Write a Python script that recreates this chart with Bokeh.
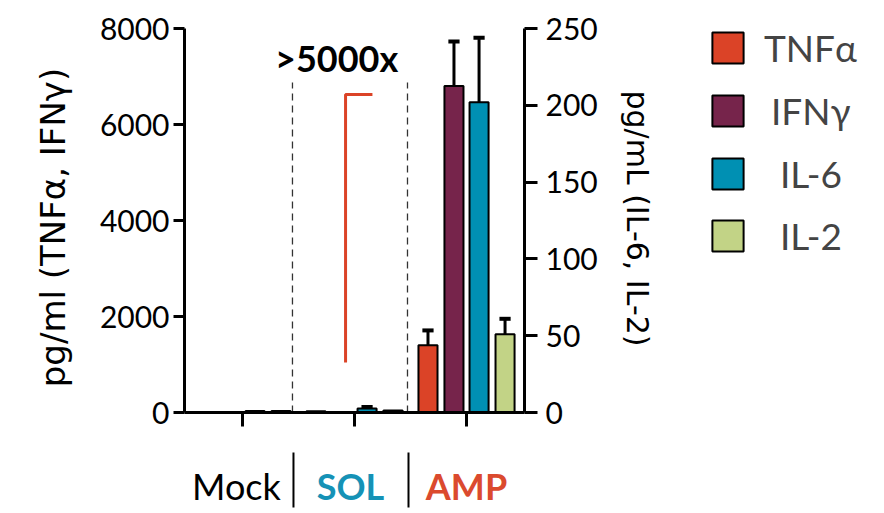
import math
from bokeh.plotting import figure
from bokeh.models import Range1d, LinearAxis, FixedTicker, Label, Legend, LegendItem, ColumnDataSource
from bokeh.embed import file_html
from bokeh.resources import INLINE

# ---------------- data ----------------
groups = ["Mock", "SOL", "AMP"]
group_x = [1, 2, 3]
series = ["TNFα", "IFNγ", "IL-6", "IL-2"]
tnfa = [0, 25, 1400]
tnfa_err = [0, 0, 310]
ifng = [0, 0, 6800]
ifng_err = [0, 0, 930]
il6 = [1.0, 2.6, 202]
il6_err = [0, 1.0, 42]
il2 = [1.0, 1.3, 51]
il2_err = [0, 0, 10]
left_ticks = [0, 2000, 4000, 6000, 8000]
right_ticks = [0, 50, 100, 150, 200, 250]
left_max = 8000
right_max = 250
fold_text = ">5000x"
left_title = "pg/ml (TNFα, IFNγ)"
right_title = "pg/mL (IL-6, IL-2)"
bracket_low = 1042
bracket_high = 6625
divider_top = 6875

# ---------------- layout (pixels) ----------------
W, H = 880, 510
LEFT, TOP = 184, 8                # pixel column of the left axis, top of the frame
Y0_PX, YMAX_PX = 412, 28          # pixel rows of value 0 and of the axis top
XMIN = 0.482                      # x value at the left axis
PX_PER_X = 112.0
ppu_l = (Y0_PX - YMAX_PX) / left_max
ppu_r = (Y0_PX - YMAX_PX) / right_max
y_lo = -(H - Y0_PX) / ppu_l
y_hi = left_max + (YMAX_PX - TOP) / ppu_l
yr_lo = -(H - Y0_PX) / ppu_r
yr_hi = right_max + (YMAX_PX - TOP) / ppu_r
x_lo = XMIN - LEFT / PX_PER_X
x_hi = XMIN + (W - LEFT) / PX_PER_X
x_axis_end = 3.518


def px_to_y(py):
    return (Y0_PX - py) / ppu_l


def px_to_x(px):
    return XMIN + (px - LEFT) / PX_PER_X


# ---------------- style ----------------
colors = ["#DB4327", "#76244B", "#0090B3", "#C2D386"]
group_colors = ["black", "#1592B6", "#DB4A2E"]
group_weights = ["normal", "bold", "bold"]
offsets = [-0.344, -0.112, 0.112, 0.344]
bar_w = 0.17
cap_w = 0.1
FONT = "Lato"

p = figure(width=W, height=H, x_range=Range1d(x_lo, x_hi), y_range=Range1d(y_lo, y_hi),
           output_backend="svg", toolbar_location=None,
           min_border_left=0, min_border_right=0, min_border_top=TOP, min_border_bottom=0)
p.extra_y_ranges = {"right": Range1d(yr_lo, yr_hi)}
p.xgrid.visible = False
p.ygrid.visible = False
p.outline_line_color = None
p.background_fill_color = "white"
p.border_fill_color = "white"

right_axis = LinearAxis(y_range_name="right")
p.add_layout(right_axis, "right")


def style_axis(ax):
    ax.axis_line_width = 3
    ax.axis_line_color = "black"
    ax.major_tick_line_width = 3
    ax.major_tick_line_color = "black"
    ax.major_tick_in = 0
    ax.major_tick_out = 11
    ax.minor_tick_line_color = None
    ax.major_label_text_font = FONT
    ax.major_label_text_font_size = "30px"
    ax.major_label_text_color = "black"


for ax in [p.yaxis[0], right_axis, p.xaxis[0]]:
    style_axis(ax)

p.yaxis[0].ticker = FixedTicker(ticks=left_ticks)
p.yaxis[0].bounds = (0, left_max)
p.yaxis[0].fixed_location = XMIN
p.yaxis[0].major_label_standoff = 4

right_axis.ticker = FixedTicker(ticks=right_ticks)
right_axis.bounds = (0, right_max)
right_axis.fixed_location = x_axis_end
right_axis.major_tick_out = 13
right_axis.major_label_standoff = 8

p.xaxis[0].ticker = FixedTicker(ticks=group_x)
p.xaxis[0].bounds = (XMIN, x_axis_end)
p.xaxis[0].fixed_location = 0
p.xaxis[0].major_tick_out = 14
p.xaxis[0].major_label_overrides = {g: "" for g in group_x}

# axis titles, placed as text
p.add_layout(Label(x=px_to_x(52), y=px_to_y(227), text=left_title, angle=math.pi / 2,
                   text_align="center", text_baseline="middle", text_font="DejaVu Sans",
                   text_font_size="34px", text_color="black"))
p.add_layout(Label(x=px_to_x(637), y=px_to_y(218), text=right_title, angle=-math.pi / 2,
                   text_align="center", text_baseline="middle", text_font="DejaVu Sans",
                   text_font_size="30px", text_color="black"))

# ---------------- bars ----------------
vals = [tnfa, ifng, il6, il2]
errs = [tnfa_err, ifng_err, il6_err, il2_err]
rng = ["default", "default", "right", "right"]
renderers = []
for i in range(4):
    xs = [g + offsets[i] for g in group_x]
    src = ColumnDataSource(dict(x=xs, top=vals[i]))
    r = p.vbar(x="x", top="top", width=bar_w, source=src, fill_color=colors[i],
               line_color="black", line_width=2, y_range_name=rng[i])
    renderers.append(r)
    ex = [x for x, e in zip(xs, errs[i]) if e > 0]
    ey0 = [v for v, e in zip(vals[i], errs[i]) if e > 0]
    ey1 = [v + e for v, e in zip(vals[i], errs[i]) if e > 0]
    p.segment(x0=ex, y0=ey0, x1=ex, y1=ey1, line_color="black", line_width=3, y_range_name=rng[i])
    p.segment(x0=[x - cap_w / 2 for x in ex], y0=ey1, x1=[x + cap_w / 2 for x in ex], y1=ey1,
              line_color="black", line_width=4, y_range_name=rng[i])

# dashed dividers
div_x = [1.446, 2.473]
p.segment(x0=div_x, y0=[0, 0], x1=div_x, y1=[divider_top] * 2, line_color="#333333",
          line_width=1.3, line_dash="7 5")

# red bracket
p.line(x=[1.92, 1.92, 2.16], y=[bracket_low, bracket_high, bracket_high], line_color=colors[0], line_width=3)

p.add_layout(Label(x=1.84, y=px_to_y(57), text=fold_text, text_align="center", text_baseline="middle",
                   text_font=FONT, text_font_size="36px", text_font_style="bold", text_color="black"))

# group labels below axis
label_x = [0.946, 1.964, 3.0]
for g, lx, c, w in zip(groups, label_x, group_colors, group_weights):
    p.add_layout(Label(x=lx, y=px_to_y(485), text=g, text_align="center", text_baseline="middle",
                       text_font=FONT, text_font_size="36px", text_font_style=w, text_color=c))

sep_x = [1.455, 2.482]
p.segment(x0=sep_x, y0=[px_to_y(452)] * 2, x1=sep_x, y1=[px_to_y(507)] * 2,
          line_color="black", line_width=2)

# legend
standoffs = [17, 24, 33, 33]
box_tops = [31, 94, 157, 219]
for i in range(4):
    lg = Legend(items=[LegendItem(label=series[i], renderers=[renderers[i]])],
                location=(708, H - box_tops[i] - 39), glyph_width=39, glyph_height=39,
                label_height=39, label_standoff=standoffs[i], label_text_font=FONT,
                label_text_font_size="37px", padding=0, margin=0, spacing=0,
                border_line_alpha=0, background_fill_alpha=0)
    p.add_layout(lg)

open("out.html", "w").write(file_html(p, INLINE))
